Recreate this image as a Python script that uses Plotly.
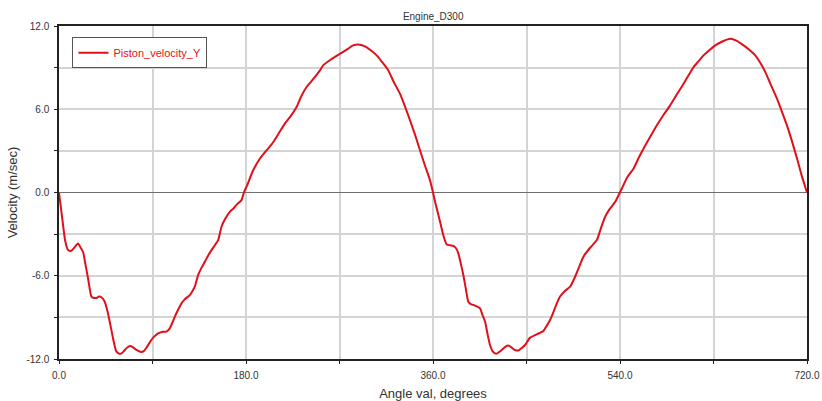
import plotly.graph_objects as go

angle_deg = [0, 2, 4, 6, 8.7, 11.9, 15, 18.3, 21, 23.1, 25.5, 28, 31.2, 33.5, 35.9, 38.5, 40.8, 44, 46.5, 48.8,
             52, 55.3, 58.5, 61, 63.3, 66, 69, 72, 74.6, 79.4, 82, 84.2, 87, 90.6, 95.4, 99, 103.4, 106.6, 109,
             111.5, 115, 117.9, 121, 125.9, 128.5, 130.7, 133.9, 137, 140.4, 143.5, 146.8, 150, 153.2, 156.4,
             160, 164.4, 168, 172, 175.7, 178, 181, 186.9, 193, 199.8, 205, 211, 217.4, 223, 228.7, 233, 238.3,
             245, 251.2, 254.3, 262, 270.4, 278, 283, 288, 294.5, 300, 305.8, 311, 317, 322, 328.2, 333, 337.9,
             343, 347.5, 352, 357.1, 360, 362, 366.8, 370, 373.2, 376.5, 379.6, 382, 384.4, 387, 389.2, 391.5,
             394, 396.5, 398.8, 402, 405.3, 407.5, 410.1, 412.5, 414.9, 417.5, 420.7, 423.5, 426.2, 429.5, 432.6,
             436, 439, 442.2, 445.5, 448.6, 453.5, 459.9, 466.3, 469.5, 472.7, 476, 479.2, 482.3, 487, 492, 496.8,
             501, 504.8, 511, 517.7, 521.5, 525.7, 530, 535.4, 538.6, 541.8, 547, 553, 558, 562.6, 569, 575.5,
             582, 588.3, 595, 601.2, 606, 610.8, 615.5, 620.4, 626, 631.7, 639, 646.2, 652, 659, 665, 670.2, 675,
             679.9, 685, 691.1, 696, 700.7, 705.5, 710.4, 715, 720]
velocity = [0, -1.2, -2.4, -3.5, -4.15, -4.2, -3.95, -3.67, -4.0, -4.27, -5.2, -6.2, -7.5, -7.6, -7.6, -7.5, -7.55,
            -7.87, -8.5, -9.3, -10.5, -11.47, -11.63, -11.55, -11.35, -11.15, -11.06, -11.2, -11.35, -11.5, -11.4,
            -11.18, -10.85, -10.46, -10.15, -10.05, -10.03, -9.79, -9.4, -8.95, -8.4, -7.99, -7.7, -7.39, -7.1,
            -6.79, -5.95, -5.45, -4.99, -4.55, -4.15, -3.8, -3.43, -2.47, -1.9, -1.39, -1.15, -0.8, -0.55, 0.0,
            0.5, 1.6, 2.4, 3.04, 3.5, 4.2, 4.96, 5.5, 6.16, 6.9, 7.6, 8.2, 8.8, 9.16, 9.6, 10.0, 10.35, 10.6,
            10.67, 10.53, 10.25, 9.88, 9.4, 8.8, 8.0, 7.12, 6.2, 5.2, 4.1, 3.04, 2.0, 0.88, 0.0, -0.67, -2.1,
            -3.1, -3.74, -3.8, -3.84, -4.0, -4.39, -5.2, -5.95, -6.9, -7.87, -8.05, -8.1, -8.2, -8.35, -8.8,
            -9.3, -10.2, -10.99, -11.45, -11.63, -11.5, -11.35, -11.12, -11.03, -11.2, -11.35, -11.39, -11.2,
            -10.99, -10.46, -10.22, -9.98, -9.6, -9.19, -8.6, -7.99, -7.5, -7.1, -6.79, -6.07, -5.3, -4.63, -4.0,
            -3.43, -2.6, -1.75, -1.2, -0.67, -0.2, 0.29, 1.1, 1.72, 2.5, 3.16, 4.0, 4.84, 5.6, 6.28, 7.1, 7.84,
            8.45, 9.04, 9.45, 9.88, 10.25, 10.6, 10.9, 11.08, 10.95, 10.6, 10.25, 9.88, 9.35, 8.68, 7.8, 6.76,
            5.8, 4.84, 3.7, 2.45, 1.2, 0.0]

x_tick_vals = [0, 90, 180, 270, 360, 450, 540, 630, 720]
x_tick_text = ["0.0", "", "180.0", "", "360.0", "", "540.0", "", "720.0"]
y_tick_vals = [-12, -9, -6, -3, 0, 3, 6, 9, 12]
y_tick_text = ["-12.0", "", "-6.0", "", "0.0", "", "6.0", "", "12.0"]

red = "#e0101a"
font = "Liberation Sans, Arial, sans-serif"

fig = go.Figure()
fig.add_trace(go.Scatter(x=angle_deg, y=velocity, mode="lines", name="Piston_velocity_Y",
                         line=dict(color=red, width=2, shape="spline", smoothing=0.6)))

fig.update_layout(
    template="none",
    width=822, height=401,
    margin=dict(l=59, r=15, t=26, b=42, pad=0),
    paper_bgcolor="white", plot_bgcolor="white",
    font=dict(family=font, color="#333333", size=11),
    title=dict(text="Engine_D300", x=0.527, xanchor="center", y=1 - 16 / 401, yanchor="middle",
               yref="container", font=dict(size=10, color="#333333")),
    showlegend=True,
    legend=dict(x=0.018, y=0.966, xanchor="left", yanchor="top", bgcolor="white",
                bordercolor="#555555", borderwidth=1, font=dict(size=11, color=red),
                itemwidth=30, tracegroupgap=0),
    xaxis=dict(range=[0, 720], tickmode="array", tickvals=x_tick_vals, ticktext=x_tick_text,
               automargin=False, ticklabelstandoff=3,
               showgrid=True, gridcolor="#d4d4d4", gridwidth=1.5, zeroline=False,
               showline=True, linecolor="#222222", linewidth=1.5, mirror=True,
               ticks="outside", ticklen=3, tickcolor="#222222", tickfont=dict(size=10, color="#333333"),
               title=dict(text="Angle val, degrees", font=dict(size=13, color="#333333"), standoff=10)),
    yaxis=dict(range=[-12, 12], tickmode="array", tickvals=y_tick_vals, ticktext=y_tick_text,
               automargin=False, ticklabelstandoff=3,
               showgrid=True, gridcolor="#d4d4d4", gridwidth=1.5, zeroline=True, zerolinecolor="#707070",
               zerolinewidth=1, showline=True, linecolor="#222222", linewidth=1.5, mirror=True,
               ticks="outside", ticklen=3, tickcolor="#222222", tickfont=dict(size=10, color="#333333"),
               title=dict(text="Velocity (m/sec)", font=dict(size=13, color="#333333"), standoff=6)),
)

fig.write_html("out.html")
